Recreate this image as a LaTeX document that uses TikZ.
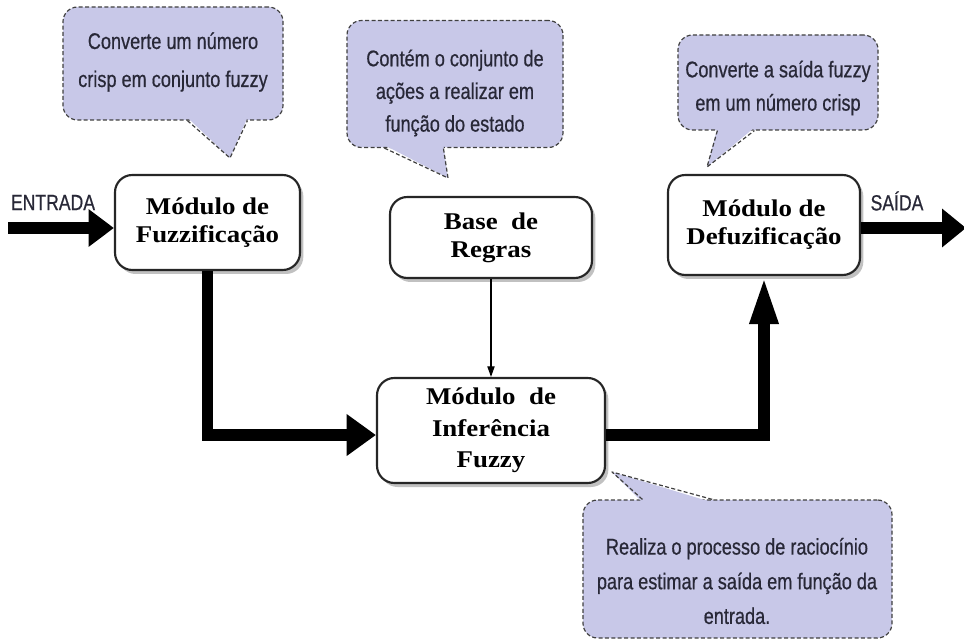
\documentclass[tikz,border=0pt]{standalone}
\usepackage{fontspec}
\newfontfamily\boxfont[FakeStretch=1.12, BoldFeatures={FakeStretch=1.12}]{Liberation Serif}
\newfontfamily\notefont[FakeStretch=0.8, FakeBold=0.6]{Liberation Sans}
\usetikzlibrary{arrows.meta, shadows, calc}
\definecolor{bubblefill}{RGB}{200,200,232}
\definecolor{notetext}{RGB}{40,40,55}

\tikzset{
  module/.style={draw=black!85, line width=1.6pt, rounded corners=13pt, fill=white, align=center,
    font=\boxfont\bfseries\fontsize{18}{21}\selectfont,
    drop shadow={opacity=0.35, shadow xshift=2.5pt, shadow yshift=-3pt, fill=black!70}},
  bubble/.style={draw=black!75, dash pattern=on 3pt off 1.8pt, line width=0.9pt, rounded corners=11pt, fill=bubblefill},
  tail/.style={draw=black!75, dash pattern=on 3pt off 1.8pt, line width=0.9pt, line join=round},
  note/.style={align=center, text=notetext, font=\notefont\fontsize{17}{26}\selectfont},
  flow/.style={line width=8.5pt, draw=black},
  rule/.style={line width=0.8pt, -{Triangle[length=8pt,width=5.5pt]}},
}

\begin{document}
\begin{tikzpicture}[x=0.75pt, y=-0.75pt]
\useasboundingbox (0,0) rectangle (964,641);

% balloons
\node[bubble, minimum width=165pt, minimum height=84.75pt] (b1) at (173,63.5) {};
\node[bubble, minimum width=162pt, minimum height=95.25pt] (b2) at (455,84) {};
\node[bubble, minimum width=150pt, minimum height=71.25pt] (b3) at (778,82.5) {};
\node[bubble, minimum width=231.75pt, minimum height=103.5pt] (b4) at (737.5,569) {};

\coordinate (p1) at (230,158);
\coordinate (p2) at (448,178);
\coordinate (p3) at (707,167);
\coordinate (p4) at (612,472);

\fill[bubblefill] ($(b1.south west)+(125,-3)$) -- (p1) -- ($(b1.south west)+(185,-3)$) -- cycle;
\draw[tail] ($(b1.south west)+(125,0)$) -- (p1) -- ($(b1.south west)+(185,0)$);
\fill[bubblefill] ($(b2.south west)+(38,-3)$) -- (p2) -- ($(b2.south west)+(97,-3)$) -- cycle;
\draw[tail] ($(b2.south west)+(38,0)$) -- (p2) -- ($(b2.south west)+(97,0)$);
\fill[bubblefill] ($(b3.south west)+(40,-3)$) -- (p3) -- ($(b3.south west)+(77,-3)$) -- cycle;
\draw[tail] ($(b3.south west)+(40,0)$) -- (p3) -- ($(b3.south west)+(77,0)$);
\fill[bubblefill] ($(b4.north west)+(60,3)$) -- (p4) -- ($(b4.north west)+(130,3)$) -- cycle;
\draw[tail] ($(b4.north west)+(60,0)$) -- (p4) -- ($(b4.north west)+(130,0)$);

\node[note, font=\notefont\fontsize{17}{28.5}\selectfont] (t1) at (173,62) {Converte um número\\crisp em conjunto fuzzy};
\node[note, font=\notefont\fontsize{17}{24.5}\selectfont] (t2) at (455,93) {Contém o conjunto de\\ações a realizar em\\função do estado};
\node[note, font=\notefont\fontsize{17}{25}\selectfont] (t3) at (778,88) {Converte a saída fuzzy\\em um número crisp};
\node[note] (t4) at (737,581) {Realiza o processo de raciocínio\\para estimar a saída em função da\\entrada.};

% modules
\node[module, minimum width=138.75pt, minimum height=71.25pt] (fuzz) at (207.5,222.5) {Módulo de\\Fuzzificação};
\node[module, minimum width=151.5pt, minimum height=60.75pt] (regras) at (491,237.5) {Base~ de\\Regras};
\node[module, minimum width=144pt, minimum height=75pt] (defuz) at (764,225) {Módulo de\\Defuzificação};
\node[module, minimum width=171pt, minimum height=78.75pt, font=\boxfont\bfseries\fontsize{18}{23.5}\selectfont] (infer) at (491,430.5) {Módulo~ de\\Inferência\\Fuzzy};

\node[note, font=\notefont\fontsize{16.5}{18}\selectfont] (entrada) at (53,202.5) {ENTRADA};
\node[note, font=\notefont\fontsize{16.5}{18}\selectfont] (saida) at (897,201) {SAÍDA};

\coordinate (in) at (8,228);
\coordinate (out) at (966,228);

\draw[flow, -{Triangle[length=19pt,width=27pt]}] (in) -- (in -| fuzz.west);
\draw[flow, -{Triangle[length=22pt,width=30pt]}] (fuzz.south) |- ([yshift=-3.4pt]infer.west);
\draw[flow, -{Triangle[length=36pt,width=19.5pt]}] ([yshift=-3.4pt]infer.east) -| (defuz.south);
\draw[flow, -{Triangle[length=18pt,width=28pt]}] (defuz.east |- out) -- (out);
\draw[rule] (regras.south) -- (infer.north);
\end{tikzpicture}
\end{document}
